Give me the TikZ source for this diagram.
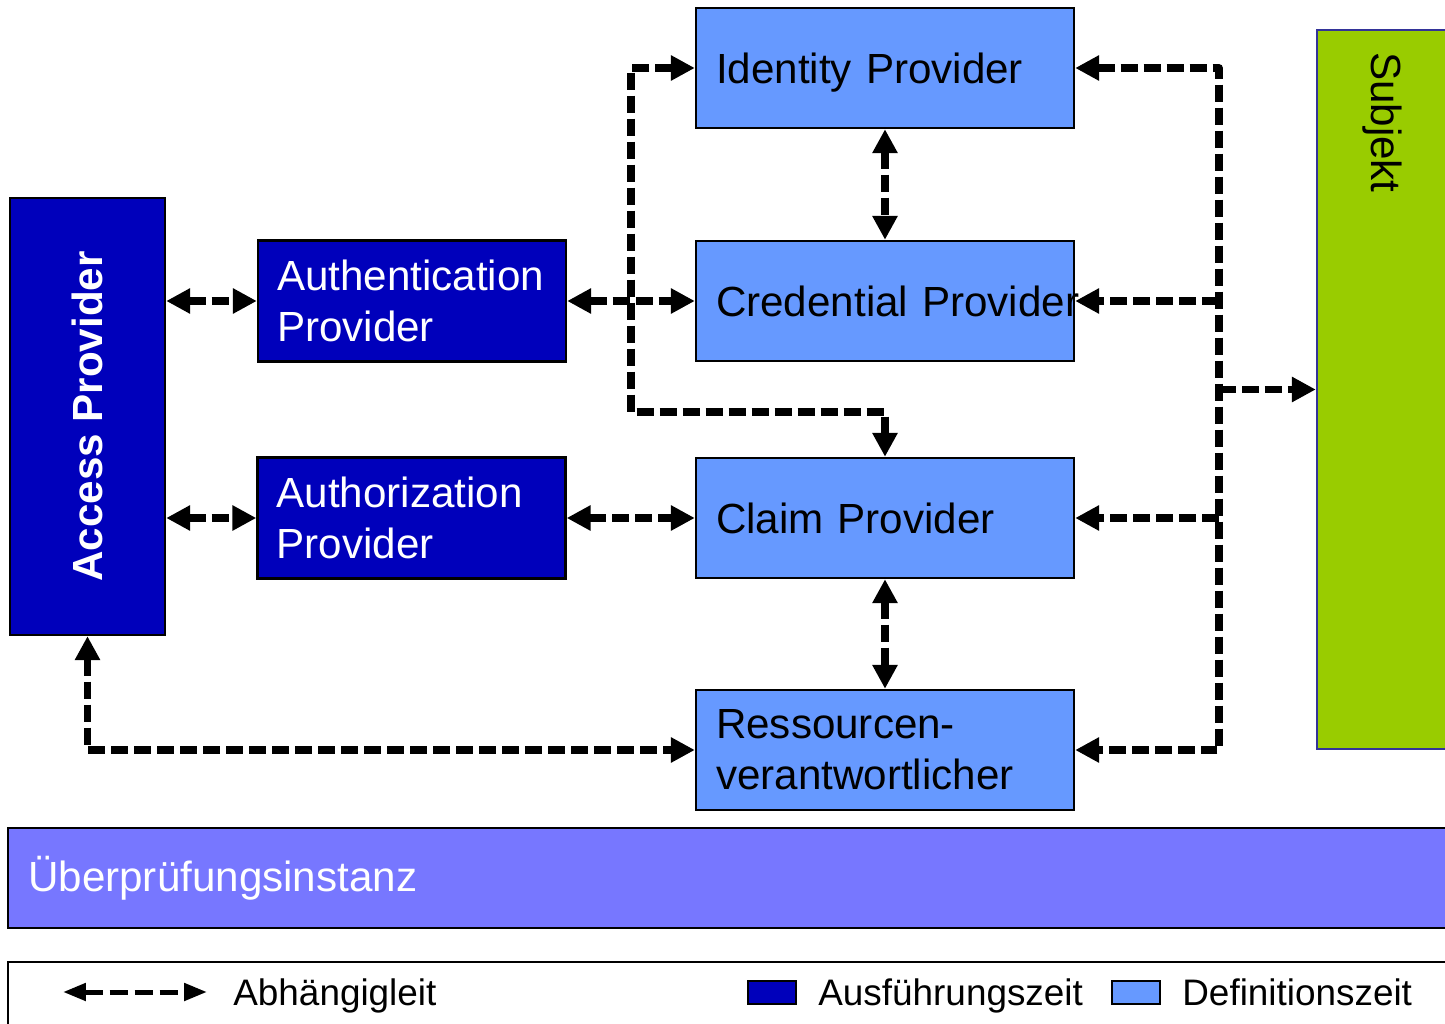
\documentclass[tikz,border=0pt]{standalone}
\usepackage{fontspec}
\setmainfont{Liberation Sans}
\usetikzlibrary{arrows.meta}

\definecolor{runblue}{RGB}{0,0,187}
\definecolor{defblue}{RGB}{102,153,255}
\definecolor{subjgreen}{RGB}{153,204,0}
\definecolor{subjline}{RGB}{51,51,153}
\definecolor{instblue}{RGB}{119,119,255}

\newcommand{\boxfont}{\fontsize{24}{29}\selectfont}
\newcommand{\keyfont}{\fontsize{21}{25}\selectfont}

\tikzset{
  boxline/.style={draw, line width=1.4pt},
  runbox/.style={boxline, fill=runblue, text=white, minimum height=2.42cm,
    inner xsep=0.38cm, text width=5.4cm, align=left, font=\boxfont},
  defbox/.style={boxline, fill=defblue, minimum height=2.4cm,
    inner xsep=0.4cm, text width=6.76cm, align=left, font=\boxfont},
  oneline/.style={text depth=0pt},
  accbox/.style={boxline, fill=runblue, text=white, rotate=90,
    minimum width=8.74cm, minimum height=3.1cm, font=\boxfont\bfseries},
  subjbox/.style={draw=subjline, line width=1.4pt, fill=subjgreen, rotate=-90,
    minimum width=14.38cm, minimum height=2.6cm, inner xsep=0.44cm,
    text width=13.5cm, align=left, font=\boxfont},
  instbox/.style={boxline, fill=instblue, text=white, minimum height=2cm,
    inner xsep=0.4cm, text width=28.24cm, align=left, font=\boxfont},
  keybox/.style={boxline, minimum width=0.96cm, minimum height=0.46cm, inner sep=0pt},
  keytext/.style={anchor=base west, inner sep=0pt, font=\keyfont},
  depline/.style={line width=0.15cm, line join=round, dash pattern=on 0.34cm off 0.12cm},
  dep/.style={depline, {Triangle[length=0.48cm,width=0.48cm]}-{Triangle[length=0.48cm,width=0.48cm]}},
  deptip/.style={depline, -{Triangle[length=0.48cm,width=0.48cm]}},
  keydep/.style={line width=0.1cm, dash pattern=on 0.36cm off 0.14cm,
    {Triangle[length=0.46cm,width=0.34cm]}-{Triangle[length=0.46cm,width=0.34cm]}},
}

\begin{document}
\begin{tikzpicture}[x=0.02cm, y=-0.02cm]
  \useasboundingbox (0,0) rectangle (1445,1024);

  \node[accbox] (access) at (87.5,416.5) {Access Provider};
  \node[runbox] (authn) at (412,301) {Authentication\\Provider};
  \node[runbox] (authz) at (411.5,518) {Authorization\\Provider};
  \node[defbox, oneline] (ident) at (885,68) {Identity Provider};
  \node[defbox, oneline] (cred) at (885,301) {\mbox{Credential Provider}};
  \node[defbox, oneline] (claim) at (885,518) {Claim Provider};
  \node[defbox] (ress) at (885,750) {Ressourcen-\\verantwortlicher};
  \node[subjbox] (subj) at (1382,389.5) {Subjekt};
  \node[instbox] (inst) at (734,878) {Überprüfungsinstanz};

  \coordinate (lbus) at (631,412);
  \coordinate (rbus) at (1219,389.5);

  \draw[dep] (authn.west -| access.south) -- (authn.west);
  \draw[dep] (authz.west -| access.south) -- (authz.west);
  \draw[dep] (authn.east) -- (cred.west);
  \draw[dep] (authz.east) -- (claim.west);
  \draw[dep] (ident.south) -- (cred.north);
  \draw[dep] (claim.south) -- (ress.north);
  \draw[dep] (access.west) |- (ress.west);
  \draw[dep] (ident.west) -| (lbus) -- (lbus -| claim.north) -- (claim.north);
  \draw[dep] (ident.east) -| (rbus) |- (ress.east);
  \draw[deptip] (rbus |- cred.east) -- (cred.east);
  \draw[deptip] (rbus |- claim.east) -- (claim.east);
  \draw[deptip] (rbus) -- (subj.south);

  % legend
  \node[boxline, minimum width=29.04cm, minimum height=1.56cm] (legend) at (734,1001) {};
  \coordinate (keyL) at (63,992);
  \coordinate (keyR) at (207,992);
  \draw[keydep] (keyL) -- (keyR);
  \node[keytext] (deptext) at (233,1005) {Abhängigleit};
  \node[keybox, fill=runblue] (runkey) at (772,992.5) {};
  \node[keytext] (runtext) at (818,1005) {Ausführungszeit};
  \node[keybox, fill=defblue] (defkey) at (1136,992.5) {};
  \node[keytext] (deftext) at (1182,1005) {Definitionszeit};
\end{tikzpicture}
\end{document}
